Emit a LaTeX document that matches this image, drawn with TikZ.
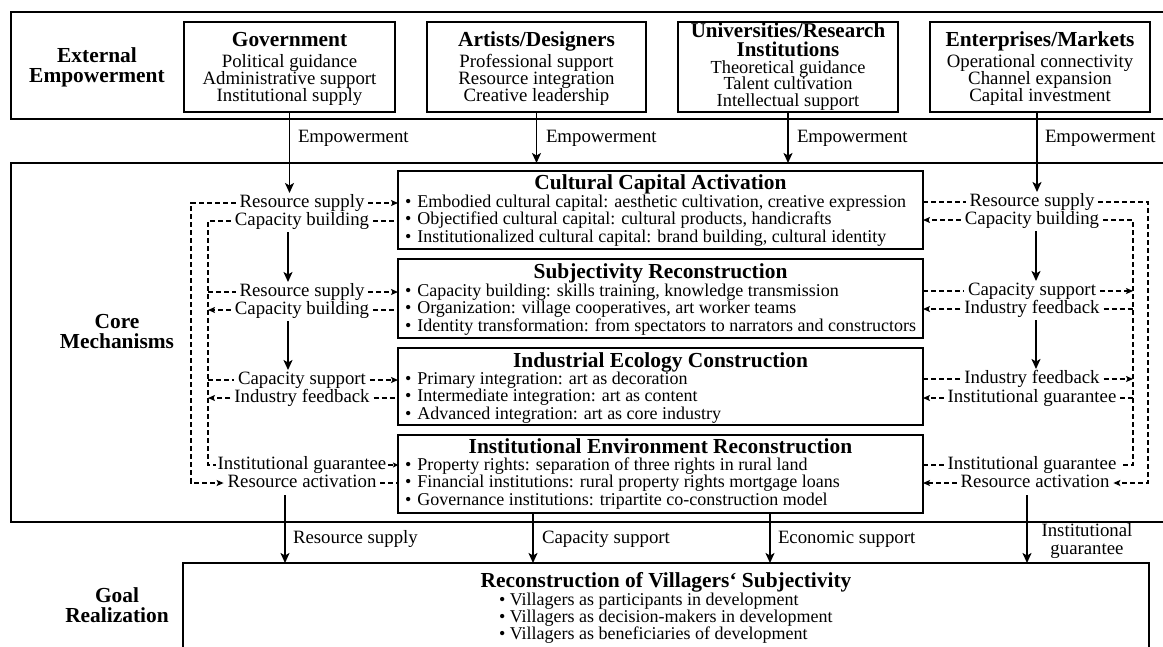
\documentclass[tikz,border=0pt]{standalone}
\usepackage{fontspec}
\setmainfont{Liberation Serif}
\usetikzlibrary{arrows.meta}
\begin{document}
\begin{tikzpicture}[x=1pt,y=-1pt,
  box/.style={draw, line width=1.8pt, inner sep=0pt, outer sep=0pt, anchor=north west},
  txt/.style={inner sep=0pt, outer sep=0pt, text height=12pt, text depth=4pt, font=\fontsize{18.8}{17.5}\selectfont},
  bul/.style={inner sep=0pt, outer sep=0pt, text height=12pt, text depth=4pt, anchor=west, font=\fontsize{18}{17}\selectfont},
  ttl/.style={inner sep=0pt, outer sep=0pt, text height=14pt, text depth=4pt, font=\fontsize{21.4}{20}\selectfont\bfseries},
  lab/.style={txt, inner xsep=4pt},
  arr/.style={line width=1.7pt, -{Stealth[length=10pt,width=9pt,inset=2.5pt]}},
  dsh/.style={line width=1.3pt, dash pattern=on 5pt off 3pt},
  darr/.style={dsh, -{Stealth[length=7pt,width=6pt,inset=1.5pt]}},
  darrs/.style={dsh, -{Stealth[length=5pt,width=5pt,inset=1pt]}},
]
\useasboundingbox (0,0) rectangle (1163,646);
\fill[white] (0,0) rectangle (1163,646);
\clip (0,0) rectangle (1163,646);

% ---------- outer boxes ----------
\node[box, minimum width=1170pt, minimum height=107pt] (ext) at (11,12) {};
\node[box, minimum width=1170pt, minimum height=359pt] (core) at (11,163) {};
\node[box, minimum width=966pt, minimum height=120pt] (goal) at (183,563) {};

% section labels
\node[ttl] (s1a) at (97,57) {External};
\node[ttl] (s1b) at (97,77) {Empowerment};
\node[ttl] (s2a) at (117,323) {Core};
\node[ttl] (s2b) at (117,343.5) {Mechanisms};
\node[ttl] (s3a) at (117,597) {Goal};
\node[ttl] (s3b) at (117,617) {Realization};

% ---------- top actor boxes ----------
\node[box, minimum width=211pt, minimum height=90pt] (gov) at (184,22) {};
\node[box, minimum width=219pt, minimum height=90pt] (art) at (427,22) {};
\node[box, minimum width=220pt, minimum height=90pt] (uni) at (678,22) {};
\node[box, minimum width=220pt, minimum height=90pt] (ent) at (930,22) {};

\node[ttl] (govT) at (289.5,41) {Government};
\node[txt] (gov1) at (289.5,63) {Political guidance};
\node[txt] (gov2) at (289.5,80) {Administrative support};
\node[txt] (gov3) at (289.5,97) {Institutional supply};

\node[ttl] (artT) at (536.5,41) {Artists/Designers};
\node[txt] (art1) at (536.5,63) {Professional support};
\node[txt] (art2) at (536.5,80) {Resource integration};
\node[txt] (art3) at (536.5,97) {Creative leadership};

\node[ttl, font=\fontsize{21}{20}\selectfont\bfseries] (uniT1) at (788,32) {Universities/Research};
\node[ttl, font=\fontsize{21}{20}\selectfont\bfseries] (uniT2) at (788,51) {Institutions};
\node[txt, font=\fontsize{18.4}{17}\selectfont] (uni1) at (788,69) {Theoretical guidance};
\node[txt, font=\fontsize{18.4}{17}\selectfont] (uni2) at (788,85.8) {Talent cultivation};
\node[txt, font=\fontsize{18.4}{17}\selectfont] (uni3) at (788,102.5) {Intellectual support};

\node[ttl] (entT) at (1040,41) {Enterprises/Markets};
\node[txt] (ent1) at (1040,63) {Operational connectivity};
\node[txt] (ent2) at (1040,80) {Channel expansion};
\node[txt] (ent3) at (1040,97) {Capital investment};

% Empowerment labels
\node[txt, anchor=west] (em1) at (298,138) {Empowerment};
\node[txt, anchor=west] (em2) at (546,138) {Empowerment};
\node[txt, anchor=west] (em3) at (797,138) {Empowerment};
\node[txt, anchor=west] (em4) at (1045,138) {Empowerment};

% ---------- core mechanism boxes ----------
\node[box, minimum width=525pt, minimum height=78pt] (cca) at (398,171) {};
\node[box, minimum width=525pt, minimum height=79pt] (sr)  at (398,259) {};
\node[box, minimum width=525pt, minimum height=77pt] (iec) at (398,348) {};
\node[box, minimum width=525pt, minimum height=78pt] (ier) at (398,435) {};

\node[ttl] (ccaT) at (660.5,184) {Cultural Capital Activation};
\node[bul] (cca1) at (405,203) {\textbullet\hspace{6pt}Embodied cultural capital: aesthetic cultivation, creative expression};
\node[bul] (cca2) at (405,220) {\textbullet\hspace{6pt}Objectified cultural capital: cultural products, handicrafts};
\node[bul] (cca3) at (405,238) {\textbullet\hspace{6pt}Institutionalized cultural capital: brand building, cultural identity};

\node[ttl] (srT) at (660.5,273) {Subjectivity Reconstruction};
\node[bul] (sr1) at (405,292) {\textbullet\hspace{6pt}Capacity building: skills training, knowledge transmission};
\node[bul] (sr2) at (405,309) {\textbullet\hspace{6pt}Organization: village cooperatives, art worker teams};
\node[bul] (sr3) at (405,327) {\textbullet\hspace{6pt}Identity transformation: from spectators to narrators and constructors};

\node[ttl] (iecT) at (660.5,362) {Industrial Ecology Construction};
\node[bul] (iec1) at (405,380) {\textbullet\hspace{6pt}Primary integration: art as decoration};
\node[bul] (iec2) at (405,397) {\textbullet\hspace{6pt}Intermediate integration: art as content};
\node[bul] (iec3) at (405,415) {\textbullet\hspace{6pt}Advanced integration: art as core industry};

\node[ttl] (ierT) at (660.5,448) {Institutional Environment Reconstruction};
\node[bul] (ier1) at (405,466) {\textbullet\hspace{6pt}Property rights: separation of three rights in rural land};
\node[bul] (ier2) at (405,483) {\textbullet\hspace{6pt}Financial institutions: rural property rights mortgage loans};
\node[bul] (ier3) at (405,501) {\textbullet\hspace{6pt}Governance institutions: tripartite co-construction model};

% ---------- goal box text ----------
\node[ttl] (goalT) at (666,582) {Reconstruction of Villagers‘ Subjectivity};
\node[bul] (g1) at (499,601) {\textbullet\ Villagers as participants in development};
\node[bul] (g2) at (499,618) {\textbullet\ Villagers as decision-makers in development};
\node[bul] (g3) at (499,635) {\textbullet\ Villagers as beneficiaries of development};

% ---------- left labels ----------
\node[lab] (rsL1) at (302,203) {Resource supply};
\node[lab] (cbL1) at (302,221) {Capacity building};
\node[lab] (rsL2) at (302,292) {Resource supply};
\node[lab] (cbL2) at (302,310) {Capacity building};
\node[lab] (csL3) at (302,380) {Capacity support};
\node[lab] (ifL3) at (302,398) {Industry feedback};
\node[lab, inner xsep=2pt] (igL4) at (302,465) {Institutional guarantee};
\node[lab] (raL4) at (302,483) {Resource activation};

% ---------- right labels ----------
\node[lab] (rsR1) at (1032,202) {Resource supply};
\node[lab] (cbR1) at (1032,220) {Capacity building};
\node[lab] (csR2) at (1032,291) {Capacity support};
\node[lab] (ifR2) at (1032,309) {Industry feedback};
\node[lab] (ifR3) at (1032,379) {Industry feedback};
\node[lab] (igR3) at (1032,398) {Institutional guarantee};
\node[lab] (igR4) at (1032,465) {Institutional guarantee};
\node[lab] (raR4) at (1035,483) {Resource activation};

% goal arrow labels
\node[txt, anchor=west] (gl1) at (293,539) {Resource supply};
\node[txt, anchor=west] (gl2) at (542,539) {Capacity support};
\node[txt, anchor=west] (gl3) at (778,539) {Economic support};
\node[txt] (gl4) at (1087,532) {Institutional};
\node[txt] (gl5) at (1087,550) {guarantee};

% ---------- helper coordinates ----------
\coordinate (LO) at (191,0);
\coordinate (LI) at (208,0);
\coordinate (RO) at (1148,0);
\coordinate (RI) at (1133,0);
\coordinate (LA) at (288,0);
\coordinate (RA) at (1036,0);
\coordinate (LG) at (285,0);
\coordinate (RG) at (1027,0);
\coordinate (G2) at ([xshift=-127.5pt]ier.south);
\coordinate (G3) at ([xshift=109.5pt]ier.south);
\coordinate (ENT) at ([xshift=-3pt]ent.south);

% ---------- solid arrows ----------
\draw[arr, shorten >=2pt] (gov.south) -- (gov.south |- rsL1.north);
\draw[arr] (art.south) -- (art.south |- core.north);
\draw[arr] (uni.south) -- (uni.south |- core.north);
\draw[arr, shorten >=2pt] (ENT) -- (ENT |- rsR1.north);

\draw[arr, shorten <=3pt, shorten >=2pt] (cbL1.south -| LA) -- (rsL2.north -| LA);
\draw[arr, shorten <=3pt, shorten >=2pt] (cbL2.south -| LA) -- (csL3.north -| LA);
\draw[arr, shorten <=3pt, shorten >=2pt] (cbR1.south -| RA) -- (csR2.north -| RA);
\draw[arr, shorten <=3pt, shorten >=2pt] (ifR2.south -| RA) -- (ifR3.north -| RA);

\draw[arr, shorten <=4pt] (raL4.south -| LG) -- (LG |- goal.north);
\draw[arr] (G2) -- (G2 |- goal.north);
\draw[arr] (G3) -- (G3 |- goal.north);
\draw[arr, shorten <=4pt] (raR4.south -| RG) -- (RG |- goal.north);

% ---------- left dashed connectors ----------
\draw[darr] (rsL1.west) -- (rsL1.west -| LO) -- (raL4.west -| LO) -- (raL4.west);
\draw[dsh] (cbL1.west) -- (cbL1.west -| LI) -- (igL4.west -| LI) -- (igL4.west);
\draw[dsh] (rsL2.west -| LI) -- (rsL2.west);
\draw[darr] (cbL2.west) -- (cbL2.west -| LI);
\draw[dsh] (csL3.west -| LI) -- (csL3.west);
\draw[darr] (ifL3.west) -- (ifL3.west -| LI);

\draw[darr] (rsL1.east) -- (rsL1.east -| cca.west);
\draw[dsh] (cbL1.east) -- (cbL1.east -| cca.west);
\draw[darr] (rsL2.east) -- (rsL2.east -| sr.west);
\draw[dsh] (cbL2.east) -- (cbL2.east -| sr.west);
\draw[darr] (csL3.east) -- (csL3.east -| iec.west);
\draw[dsh] (ifL3.east) -- (ifL3.east -| iec.west);
\draw[darrs] (igL4.east) -- (igL4.east -| ier.west);
\draw[dsh] (raL4.east) -- (raL4.east -| ier.west);

% ---------- right dashed connectors ----------
\draw[dsh] (cca.east |- rsR1.west) -- (rsR1.west);
\draw[darr] (cbR1.west) -- (cbR1.west -| cca.east);
\draw[dsh] (sr.east |- csR2.west) -- (csR2.west);
\draw[darr] (ifR2.west) -- (ifR2.west -| sr.east);
\draw[dsh] (iec.east |- ifR3.west) -- (ifR3.west);
\draw[darr] (igR3.west) -- (igR3.west -| iec.east);
\draw[dsh] (ier.east |- igR4.west) -- (igR4.west);
\draw[darr] (raR4.west) -- (raR4.west -| ier.east);

\draw[darr] (rsR1.east) -- (rsR1.east -| RO) -- (raR4.east -| RO) -- (raR4.east);
\draw[dsh] (cbR1.east) -- (cbR1.east -| RI) -- (igR4.east -| RI) -- (igR4.east);
\draw[darr] (csR2.east) -- (csR2.east -| RI);
\draw[dsh] (ifR2.east) -- (ifR2.east -| RI);
\draw[darr] (ifR3.east) -- (ifR3.east -| RI);
\draw[dsh] (igR3.east) -- (igR3.east -| RI);
\end{tikzpicture}
\end{document}
